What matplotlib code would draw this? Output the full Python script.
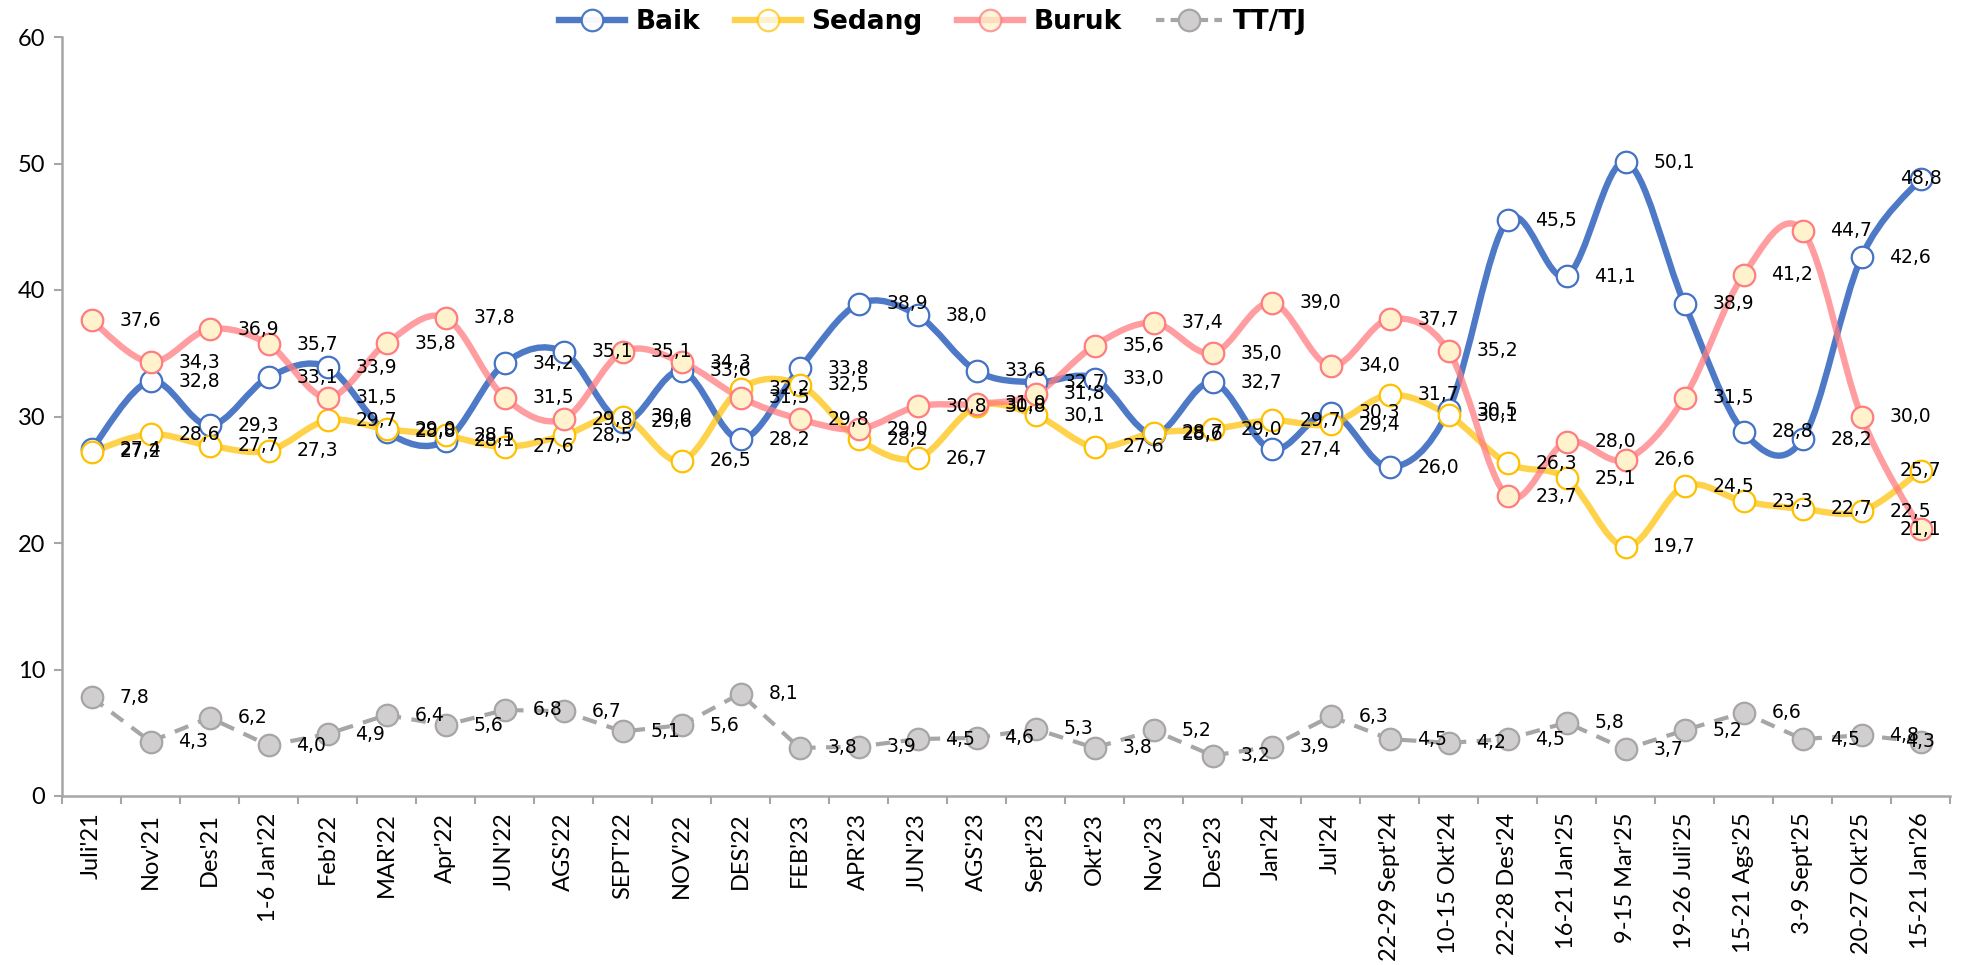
import numpy as np
import matplotlib
matplotlib.use('Agg')
import matplotlib.pyplot as plt
from matplotlib.path import Path
from matplotlib.patches import PathPatch
from matplotlib.lines import Line2D

categories = ["Juli'21", "Nov'21", "Des'21", "1-6 Jan'22", "Feb'22", "MAR'22", "Apr'22",
              "JUN'22", "AGS'22", "SEPT'22", "NOV'22", "DES'22", "FEB'23", "APR'23",
              "JUN'23", "AGS'23", "Sept'23", "Okt'23", "Nov'23", "Des'23", "Jan'24",
              "Jul'24", "22-29 Sept'24", "10-15 Okt'24", "22-28 Des'24", "16-21 Jan'25",
              "9-15 Mar'25", "19-26 Juli'25", "15-21 Ags'25", "3-9 Sept'25",
              "20-27 Okt'25", "15-21 Jan'26"]

baik = [27.4, 32.8, 29.3, 33.1, 33.9, 28.8, 28.1, 34.2, 35.1, 29.6, 33.6, 28.2, 33.8,
        38.9, 38.0, 33.6, 32.7, 33.0, 28.6, 32.7, 27.4, 30.3, 26.0, 30.5, 45.5, 41.1,
        50.1, 38.9, 28.8, 28.2, 42.6, 48.8]
sedang = [27.2, 28.6, 27.7, 27.3, 29.7, 29.0, 28.5, 27.6, 28.5, 30.0, 26.5, 32.2, 32.5,
          28.2, 26.7, 30.8, 30.1, 27.6, 28.7, 29.0, 29.7, 29.4, 31.7, 30.1, 26.3, 25.1,
          19.7, 24.5, 23.3, 22.7, 22.5, 25.7]
buruk = [37.6, 34.3, 36.9, 35.7, 31.5, 35.8, 37.8, 31.5, 29.8, 35.1, 34.3, 31.5, 29.8,
         29.0, 30.8, 31.0, 31.8, 35.6, 37.4, 35.0, 39.0, 34.0, 37.7, 35.2, 23.7, 28.0,
         26.6, 31.5, 41.2, 44.7, 30.0, 21.1]
tt_tj = [7.8, 4.3, 6.2, 4.0, 4.9, 6.4, 5.6, 6.8, 6.7, 5.1, 5.6, 8.1, 3.8, 3.9, 4.5, 4.6,
         5.3, 3.8, 5.2, 3.2, 3.9, 6.3, 4.5, 4.2, 4.5, 5.8, 3.7, 5.2, 6.6, 4.5, 4.8, 4.3]

series_names = ["Baik", "Sedang", "Buruk", "TT/TJ"]


def smooth_path(xs, ys):
    n = len(xs)
    verts = [(xs[0], ys[0])]
    codes = [Path.MOVETO]
    for i in range(n - 1):
        p0 = (xs[i - 1], ys[i - 1]) if i > 0 else (xs[i], ys[i])
        p1 = (xs[i], ys[i])
        p2 = (xs[i + 1], ys[i + 1])
        p3 = (xs[i + 2], ys[i + 2]) if i + 2 < n else p2
        c1 = (p1[0] + (p2[0] - p0[0]) / 6.0, p1[1] + (p2[1] - p0[1]) / 6.0)
        c2 = (p2[0] - (p3[0] - p1[0]) / 6.0, p2[1] - (p3[1] - p1[1]) / 6.0)
        verts += [c1, c2, p2]
        codes += [Path.CURVE4] * 3
    return Path(verts, codes)


fig = plt.figure(figsize=(19.62, 9.65), dpi=100)
ax = fig.add_axes([62 / 1962, 1 - 796 / 965, (1950 - 62) / 1962, (796 - 37) / 965])

x = np.arange(len(categories))

styles = [
    dict(data=baik, color='#4472C4', alpha=0.95, mfc='white', mec='#4472C4', smooth=True),
    dict(data=sedang, color='#FFC000', alpha=0.7, mfc='white', mec='#FFC000', smooth=True),
    dict(data=buruk, color='#FF7C80', alpha=0.75, mfc='#FFF2CC', mec='#FF7C80', smooth=True),
    dict(data=tt_tj, color='#A6A6A6', alpha=1.0, mfc='#D0CECE', mec='#A6A6A6', smooth=False),
]

for i, st in enumerate(styles):
    if st['smooth']:
        p = smooth_path(x, st['data'])
        patch = PathPatch(p, facecolor='none', edgecolor=st['color'], lw=4.6,
                          alpha=st['alpha'], capstyle='round', joinstyle='round', zorder=2 + i * 0.1)
        ax.add_patch(patch)
    else:
        ax.plot(x, st['data'], color=st['color'], lw=3.0, ls=(0, (3.5, 2.5)), zorder=2.5)

for i, st in enumerate(styles):
    ax.plot(x, st['data'], ls='none', marker='o', ms=15.5, mfc=st['mfc'], mec=st['mec'],
            mew=1.6, zorder=3 + i * 0.1)

for st in styles:
    vals = st['data']
    for xi, v in zip(x, vals):
        s = f"{v:.1f}".replace('.', ',')
        if xi == len(categories) - 1:
            ax.annotate(s, (xi, v), xytext=(0, 0), textcoords='offset points',
                        ha='center', va='center', fontsize=13.5, color='black', zorder=6)
        else:
            ax.annotate(s, (xi, v), xytext=(20, 0), textcoords='offset points',
                        ha='left', va='center', fontsize=13.5, color='black', zorder=6)

ax.set_xlim(-0.5, len(categories) - 0.5)
ax.set_ylim(0, 60)
ax.set_yticks(np.arange(0, 61, 10))
ax.set_xticks(x)
ax.set_xticklabels(categories, rotation=90, fontsize=17, family='Lato')
ax.set_xticks(np.arange(-0.5, len(categories), 1.0), minor=True)
ax.tick_params(axis='x', which='major', length=0, pad=12)
ax.tick_params(axis='x', which='minor', length=6, width=1.5, color='#A6A6A6')
ax.tick_params(axis='y', length=6, width=1.5, color='#A6A6A6', labelsize=17, pad=6)
for lab in ax.get_yticklabels():
    lab.set_family('Lato')

for s in ['top', 'right']:
    ax.spines[s].set_visible(False)
for s in ['left', 'bottom']:
    ax.spines[s].set_color('#A6A6A6')
    ax.spines[s].set_linewidth(1.8)

handles = []
for name, st in zip(series_names, styles):
    if st['smooth']:
        h = Line2D([], [], color=st['color'], alpha=st['alpha'],
                   lw=4.6, marker='o', ms=15.5, mfc=st['mfc'], mec=st['mec'], mew=1.6)
    else:
        h = Line2D([], [], color=st['color'], lw=3.0, ls=(0, (2.0, 1.5)), marker='o',
                   ms=15.5, mfc=st['mfc'], mec=st['mec'], mew=1.6)
    handles.append(h)

fig.legend(handles, series_names, loc='center', bbox_to_anchor=(933 / 1962, 1 - 22 / 965),
           ncol=4, frameon=False, prop=dict(weight='bold', size=19),
           handlelength=2.5, handletextpad=0.4, columnspacing=1.3)

fig.savefig('out.png', dpi=100)
